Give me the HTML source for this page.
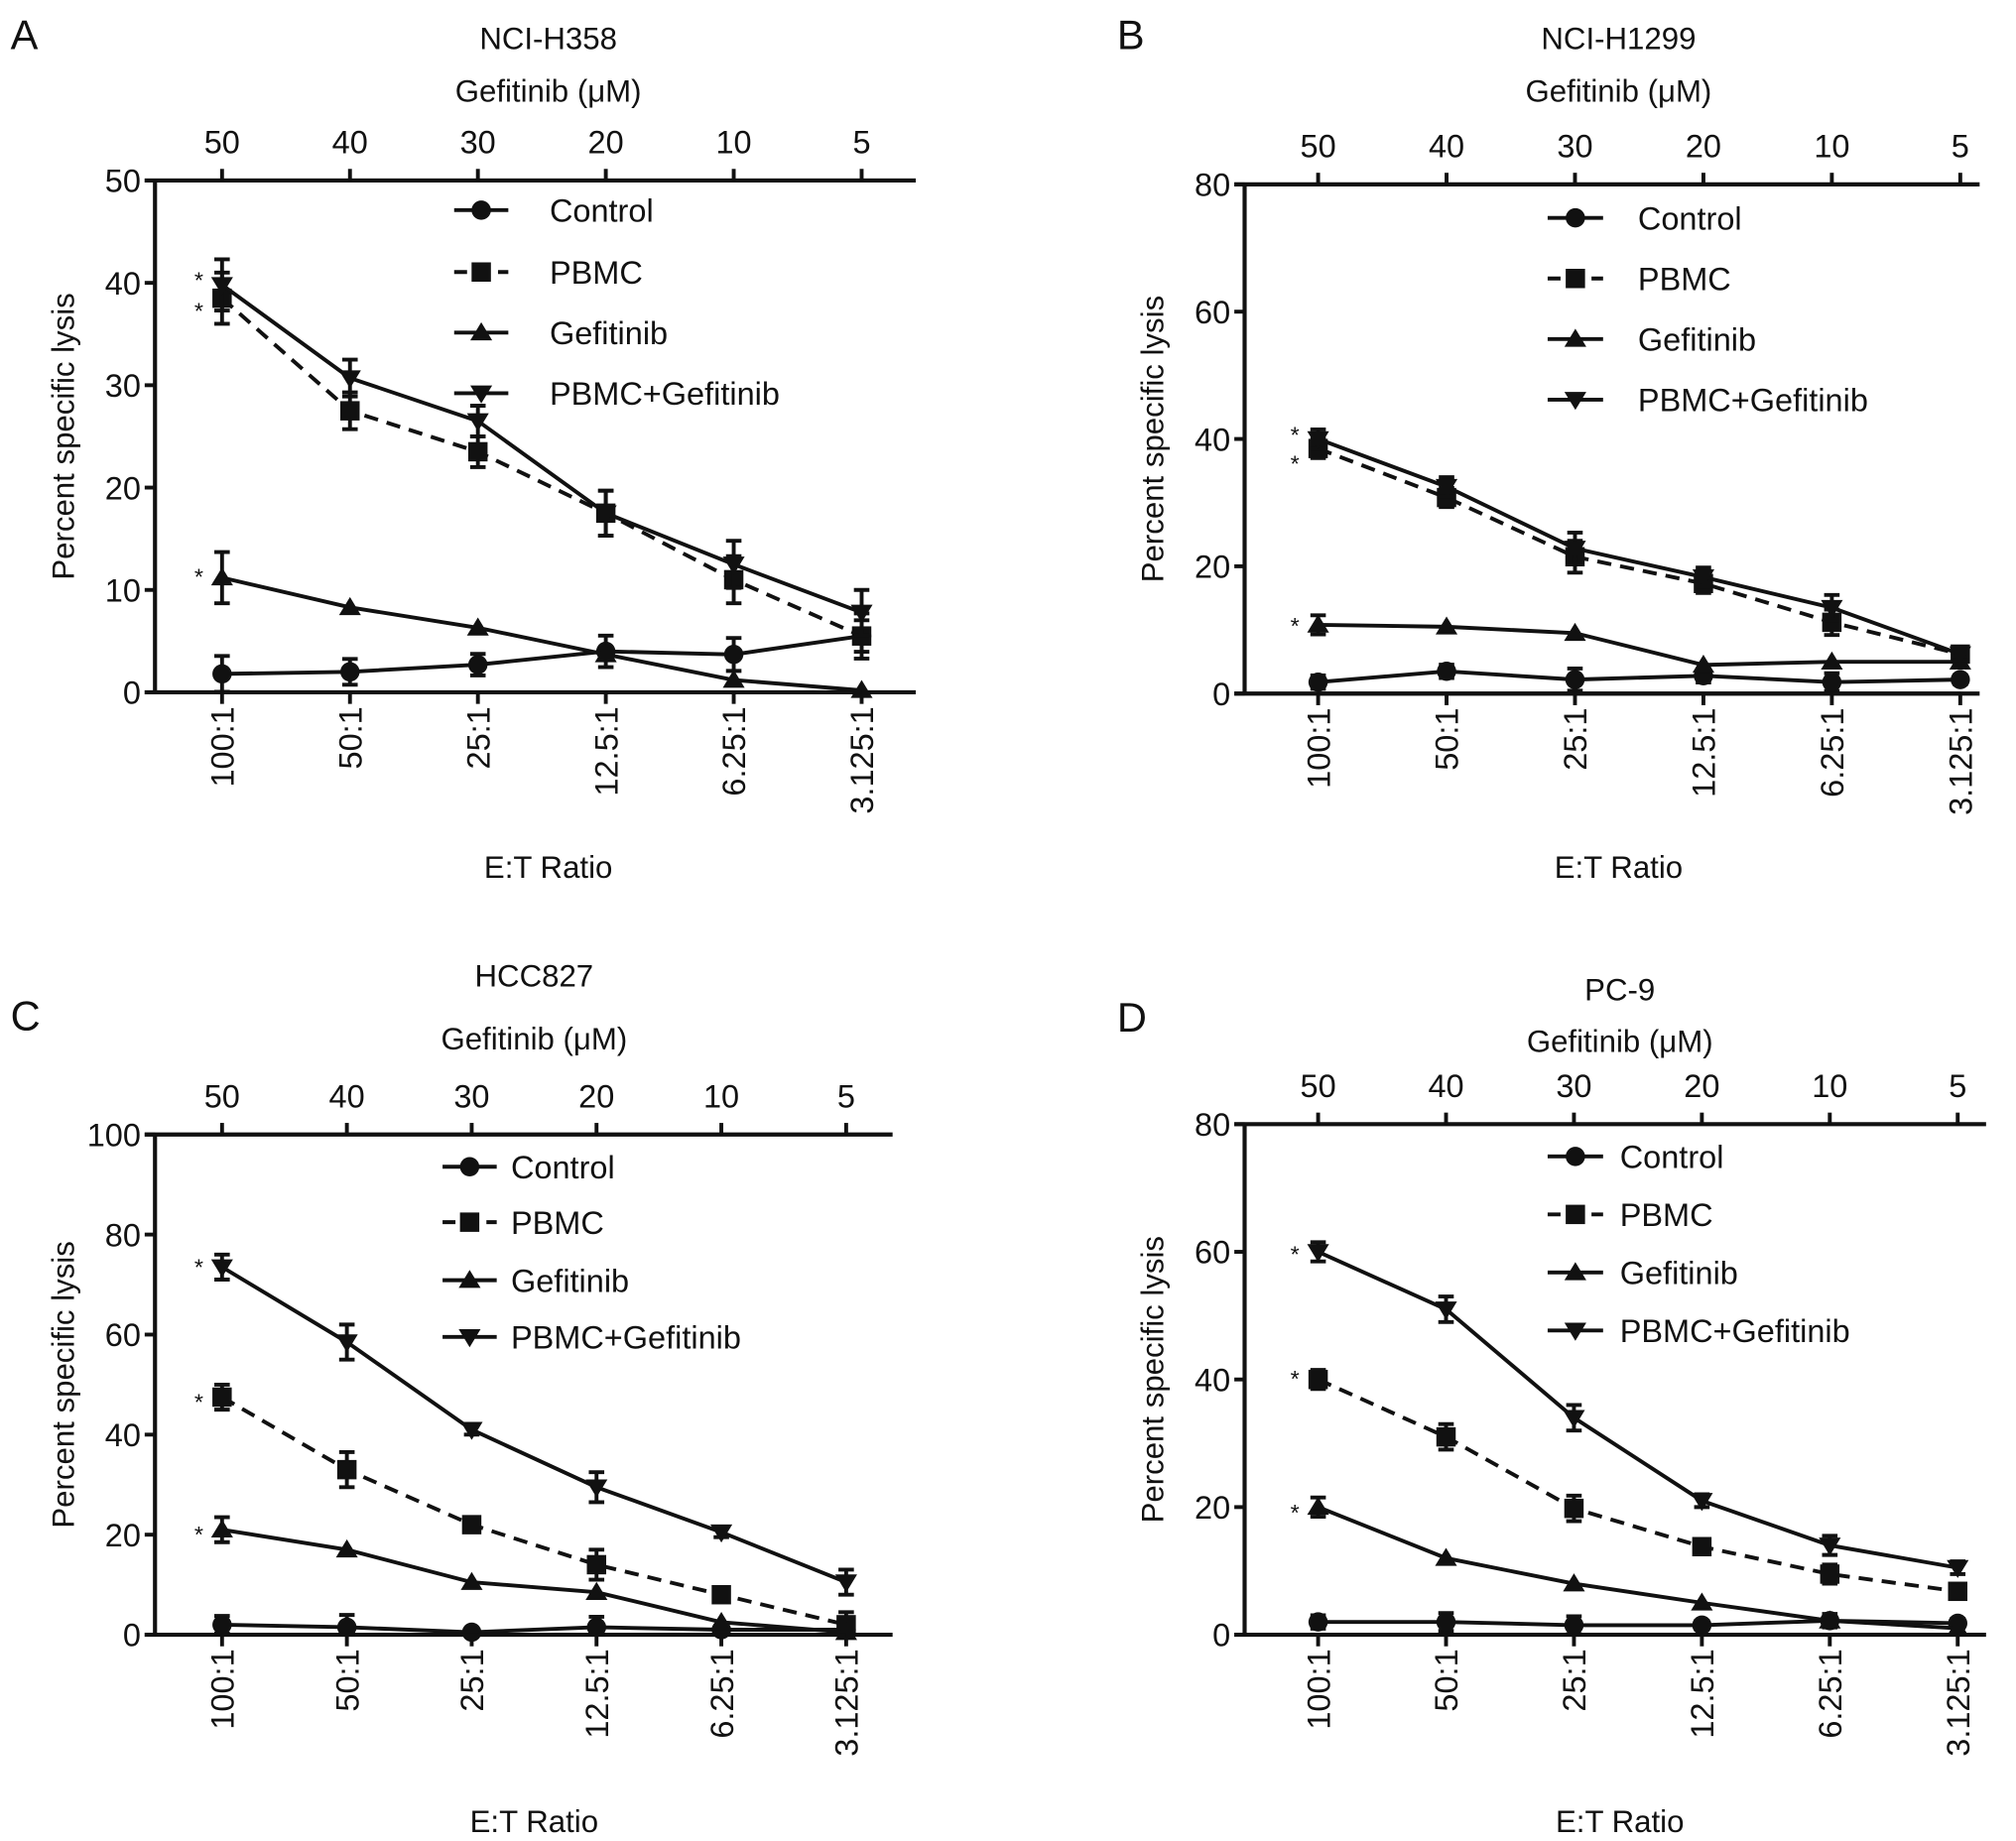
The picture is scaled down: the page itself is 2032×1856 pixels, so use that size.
<!DOCTYPE html>
<html><head><meta charset="utf-8"><style>
html,body{margin:0;padding:0;background:#fff}
svg{display:block}
text{font-family:"Liberation Sans",sans-serif;fill:#111}
</style></head><body>
<svg id="fig" width="2032" height="1856" viewBox="0 0 1563 1428" xmlns="http://www.w3.org/2000/svg"></svg>
<script>
const categories = ["100:1","50:1","25:1","12.5:1","6.25:1","3.125:1"];
const topTicks = ["50","40","30","20","10","5"];
const seriesNames = ["Control","PBMC","Gefitinib","PBMC+Gefitinib"];
// Panel A
const aControl = [1.8,2,2.7,4,3.7,5.5];
const aPBMC = [38.5,27.5,23.5,17.5,11,5.5];
const aGef = [11.2,8.3,6.3,3.7,1.2,0.2];
const aCombo = [39.8,30.7,26.5,17.5,12.5,7.8];
const aErr = [2.5,1.8,1.5,2.2,2.3,2.2];
// Panel B
const bControl = [1.8,3.5,2.2,2.8,1.8,2.2];
const bPBMC = [38.5,30.8,21.5,17.3,11.2,6.2];
const bGef = [10.8,10.5,9.5,4.5,5,5];
const bCombo = [40,32.5,22.8,18.3,13.5,6.2];
const bErr = [1.5,1.5,2.5,1.5,2,1];
// Panel C
const cControl = [2,1.5,0.5,1.5,1,1];
const cPBMC = [47.5,33,22,14,8,2];
const cGef = [21,17,10.5,8.5,2.5,0.5];
const cCombo = [73.5,58.5,41,29.5,20.5,10.5];
const cErr = [2.5,3.5,1,3,1,2.5];
// Panel D
const dControl = [2,2,1.5,1.5,2.2,1.8];
const dPBMC = [40,31,19.8,13.8,9.5,6.8];
const dGef = [20,12,8,5,2.2,1];
const dCombo = [60,51,34,21,14,10.5];
const dErr = [1.5,2,2,1,1.5,1];

const NS="http://www.w3.org/2000/svg";
const svg=document.getElementById('fig');
function mk(tag,attrs,parent){const e=document.createElementNS(NS,tag);for(const k in attrs)e.setAttribute(k,attrs[k]);(parent||svg).appendChild(e);return e;}
function txt(s,x,y,size,anchor,parent){const t=mk('text',{x:x,y:y,'font-size':size,'text-anchor':anchor||'middle'},parent);t.textContent=s;return t;}
function marker(kind,x,y,g){
  if(kind===0) return mk('circle',{cx:x,cy:y,r:7.5,fill:'#111'},g);
  if(kind===1) return mk('rect',{x:x-7.5,y:y-7.5,width:15,height:15,fill:'#111'},g);
  if(kind===2) return mk('polygon',{points:`${x},${y-8} ${x-8.5},${y+6} ${x+8.5},${y+6}`,fill:'#111'},g);
  return mk('polygon',{points:`${x},${y+8} ${x-8.5},${y-6} ${x+8.5},${y-6}`,fill:'#111'},g);
}
function panel(cfg){
  const g=mk('g',{});
  
  
  const {L,T,B,R,xs,ymax,ystep}=cfg;
  const y=v=>B-(v/ymax)*(B-T);
  const x=i=>xs[0]+i*(xs[1]-xs[0]);
  const pl=txt(cfg.id.toUpperCase(),cfg.letter[0],cfg.letter[1],32,'start',g);
  
  const tt=txt(cfg.title,cfg.cx,cfg.titleY,24,'middle',g);
  
  const gt=txt('Gefitinib (μM)',cfg.cx,cfg.gefY,24,'middle',g);
  
  const ax=mk('path',{d:`M${L},${B} L${L},${T} L${R},${T} M${L-8},${B} L${R},${B} M${L-8},${T} L${L},${T}`,stroke:'#111','stroke-width':3.2,fill:'none'},g);
  
  for(let v=0;v<=ymax;v+=ystep){
    mk('line',{x1:L-8,x2:L,y1:y(v),y2:y(v),stroke:'#111','stroke-width':3},g);
    const t=txt(String(v),L-11,y(v)+9,25,'end',g);
    
  }
  const yl=txt('Percent specific lysis',0,0,24,'middle',g);
  yl.setAttribute('transform',`translate(${L-63},${(T+B)/2}) rotate(-90)`);
  
  categories.forEach((c,i)=>{
    mk('line',{x1:x(i),x2:x(i),y1:T-9,y2:T,stroke:'#111','stroke-width':3},g);
    mk('line',{x1:x(i),x2:x(i),y1:B,y2:B+9,stroke:'#111','stroke-width':3},g);
    const tl=txt(topTicks[i],x(i),T-21,25,'middle',g);
    
    const bl=txt(c,0,0,25,'end',g);
    bl.setAttribute('transform',`translate(${x(i)+9},${B+11}) rotate(-90)`);
    
  });
  const xt=txt('E:T Ratio',cfg.cx,cfg.etY,24,'middle',g);
  
  cfg.series.forEach((vals,s)=>{
    const sg=mk('g',{},g);
    
    
    const d=vals.map((v,i)=>(i?'L':'M')+x(i)+','+y(v)).join(' ');
    mk('path',{d:d,stroke:'#111','stroke-width':3,fill:'none','stroke-dasharray':s===1?'11,7':'none'},sg);
    vals.forEach((v,i)=>{
      if(s!==2 || i<1){
        const e=cfg.err[i]*(s===0?0.7:1);
        const y1=y(v+e),y2=y(Math.max(0,v-e));
        mk('path',{d:`M${x(i)},${y1} L${x(i)},${y2} M${x(i)-6},${y1} L${x(i)+6},${y1} M${x(i)-6},${y2} L${x(i)+6},${y2}`,stroke:'#111','stroke-width':3,fill:'none'},sg);
      }
      const m=marker(s,x(i),y(v),sg);
      
      
    });
  });
  mk('path',{d:`M${x(0)},${B} L${x(5)},${B}`,stroke:'#111','stroke-width':3},g);
  cfg.stars.forEach(st=>{const t=txt('*',x(0)-18,y(st)+8,18,'middle',g);});
  const lg=mk('g',{},g);
  
  seriesNames.forEach((n,s)=>{
    const ly=cfg.leg.rows[s];
    mk('line',{x1:cfg.leg.x1,x2:cfg.leg.x2,y1:ly,y2:ly,stroke:'#111','stroke-width':3,'stroke-dasharray':s===1?'10,7':'none'},lg);
    marker(s,(cfg.leg.x1+cfg.leg.x2)/2,ly,lg);
    const t=txt(n,cfg.leg.tx,ly+9,25,'start',lg);
    
  });
}
panel({id:'a',title:'NCI-H358',L:120,T:140,B:537,R:710,xs:[172,271.2],ymax:50,ystep:10,cx:425,titleY:38,gefY:79,etY:681,letter:[8,38],
  series:[aControl,aPBMC,aGef,aCombo],err:aErr,stars:[40.5,37.5,11.5],
  leg:{x1:352,x2:394,tx:426,rows:[163,211,258,305]}});
panel({id:'b',title:'NCI-H1299',L:965,T:143,B:538,R:1535,xs:[1022,1121.6],ymax:80,ystep:20,cx:1255,titleY:38,gefY:79,etY:681,letter:[866,38],
  series:[bControl,bPBMC,bGef,bCombo],err:bErr,stars:[41,36.5,11],
  leg:{x1:1200,x2:1243,tx:1270,rows:[169,216,263,310]}});
panel({id:'c',title:'HCC827',L:120,T:880,B:1268,R:692,xs:[172,96.8+172],ymax:100,ystep:20,cx:414,titleY:765,gefY:814,etY:1421,letter:[8,799],
  series:[cControl,cPBMC,cGef,cCombo],err:cErr,stars:[74,47,20.5],
  leg:{x1:343,x2:385,tx:396,rows:[905,948,993,1037]}});
panel({id:'d',title:'PC-9',L:965,T:872,B:1268,R:1540,xs:[1022,1121.2],ymax:80,ystep:20,cx:1256,titleY:776,gefY:816,etY:1421,letter:[866,800],
  series:[dControl,dPBMC,dGef,dCombo],err:dErr,stars:[60,40.5,19.5],
  leg:{x1:1200,x2:1243,tx:1256,rows:[897,942,987,1032]}});
</script>
</body></html>
